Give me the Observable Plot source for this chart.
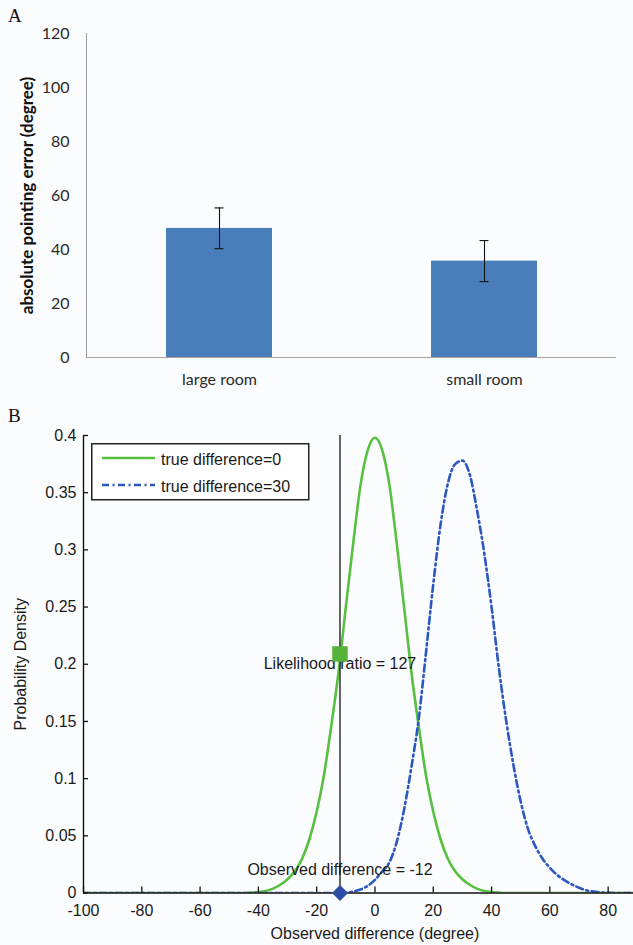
<!DOCTYPE html>
<html><head><meta charset="utf-8">
<script src="https://cdn.jsdelivr.net/npm/d3@7"></script>
<script src="https://cdn.jsdelivr.net/npm/@observablehq/plot@0.6"></script>
<style>
html,body{margin:0;padding:0;}
body{background:#fbfcfe;width:633px;height:945px;position:relative;overflow:hidden;}
.panel-label{position:absolute;font-family:"Liberation Serif","Times New Roman",serif;font-size:19px;color:#111;line-height:normal;}
#chartA{position:absolute;left:0;top:0;}
#chartB{position:absolute;left:0;top:395px;}
#legend{position:absolute;left:91px;top:443px;}
</style></head><body>
<div class="panel-label" style="left:8px;top:5px">A</div>
<div class="panel-label" style="left:8px;top:405px">B</div>
<div id="chartA"></div>
<div id="chartB"></div>
<div id="legend"></div>
<script>
// ---------- Panel A data ----------
const rooms = ["large room", "small room"];
const errorMeans = [47.8, 35.7];
const errorLow = [40.3, 28.1];
const errorHigh = [55.4, 43.3];
const yTicksA = [0, 20, 40, 60, 80, 100, 120];
const yLabelA = "absolute pointing error (degree)";

// ---------- Panel B data ----------
const seriesNames = ["true difference=0", "true difference=30"];
const diffGrid = [-100, -90, -80, -70, -60, -50,
  -47.5, -45, -42.5, -40, -37.5, -35, -32.5, -30, -27.5, -25, -22.5, -20, -17.5, -15, -12.5, -10, -7.5, -5, -2.5,
  0, 2.5, 5, 7.5, 10, 12.5, 15, 17.5, 20, 22.5, 25, 27.5, 30, 32.5, 35, 37.5, 40, 42.5, 45, 47.5,
  50, 52.5, 55, 57.5, 60, 62.5, 65, 67.5, 70, 72.5, 75, 77.5, 80, 85, 90];
const densityTrue0 = [0, 0, 0, 0, 0, 0,
  0, 0, 0.0003, 0.0008, 0.0018, 0.0038, 0.0072, 0.012, 0.019, 0.030, 0.047, 0.071, 0.103, 0.146, 0.193, 0.250, 0.305, 0.356, 0.387,
  0.398, 0.387, 0.356, 0.305, 0.250, 0.193, 0.146, 0.103, 0.071, 0.047, 0.030, 0.019, 0.012, 0.0072, 0.0038, 0.0018, 0.0008, 0.0003, 0, 0,
  0, 0, 0, 0, 0, 0, 0, 0, 0, 0, 0, 0, 0, 0, 0];
const densityTrue30 = [0, 0, 0, 0, 0, 0,
  0, 0, 0, 0, 0, 0, 0, 0, 0, 0, 0, 0, 0, 0, 0.0001, 0.0003, 0.0012, 0.003, 0.0062,
  0.0115, 0.019, 0.027, 0.045, 0.073, 0.110, 0.152, 0.210, 0.270, 0.322, 0.358, 0.375, 0.378, 0.366, 0.335, 0.297, 0.250, 0.197, 0.151, 0.112,
  0.080, 0.056, 0.041, 0.030, 0.022, 0.0158, 0.0112, 0.0075, 0.0046, 0.0024, 0.0012, 0.0005, 0.0002, 0, 0];
const observedDiff = -12;
const likelihoodPoint = 0.209;
const xTicksB = [-100, -80, -60, -40, -20, 0, 20, 40, 60, 80];
const yTicksB = [0, 0.05, 0.1, 0.15, 0.2, 0.25, 0.3, 0.35, 0.4];
const yTickLabelsB = ["0", "0.05", "0.1", "0.15", "0.2", "0.25", "0.3", "0.35", "0.4"];
const annotations = [
  {x: -12, y: 0.2, label: "Likelihood ratio = 127"},
  {x: -12, y: 0.02, label: "Observed difference = -12"}
];
const xLabelB = "Observed difference (degree)";
const yLabelB = "Probability Density";

// ---------- styles ----------
const barColor = "#4a7ebb";
const greenColor = "#58c040";
const blueColor = "#2c56c0";
const blueDash = "7,3.5,2,3.5";
const W = 633;

// ---------- Panel A ----------
const barData = rooms.map((r, i) => ({room: r, mean: errorMeans[i], lo: errorLow[i], hi: errorHigh[i]}));
const chartA = Plot.plot({
  width: W, height: 395,
  marginLeft: 86, marginRight: 17, marginTop: 33, marginBottom: 38,
  style: {background: "transparent", fontFamily: "Lato, 'Open Sans', sans-serif", color: "#2a2a2a", overflow: "visible"},
  x: {domain: rooms, paddingInner: 0.6, paddingOuter: 0.3, label: null},
  y: {domain: [0, 120], label: null},
  marks: [
    Plot.frame({anchor: "left", stroke: "#9a9a9a"}),
    Plot.barY(barData, {x: "room", y: "mean", fill: barColor}),
    Plot.ruleY([0], {stroke: "#aaa29c", strokeWidth: 1.2}),
    Plot.ruleX(barData, {x: "room", y1: "lo", y2: "hi", stroke: "#111", strokeWidth: 1.1}),
    Plot.tickY(barData, {x: "room", y: "lo", insetLeft: 48.5, insetRight: 48.5, stroke: "#111", strokeWidth: 1.1}),
    Plot.tickY(barData, {x: "room", y: "hi", insetLeft: 48.5, insetRight: 48.5, stroke: "#111", strokeWidth: 1.1}),
    Plot.axisY({ticks: yTicksA, tickSize: 0, tickPadding: 17, fontSize: 16, label: null}),
    Plot.axisX({tickSize: 0, tickPadding: 16, fontSize: 16, label: null}),
    Plot.text([yLabelA], {frameAnchor: "left", textAnchor: "middle", rotate: -90, dx: -59, fontWeight: "bold", fontSize: 17, fill: "#111", text: d => d})
  ]
});
document.getElementById("chartA").appendChild(chartA);

// ---------- Panel B ----------
const bH = 550, bTop = 40, bBottom = 52.5, bLeft = 83;
const frameH = bH - bTop - bBottom;
const frameW = W - bLeft;
const greenData = diffGrid.map((x, i) => ({x, y: densityTrue0[i]}));
const blueData = diffGrid.map((x, i) => ({x, y: densityTrue30[i]}));
const diamond = {
  draw(context, size) {
    const h = Math.sqrt(size) / Math.SQRT2;
    context.moveTo(0, -h); context.lineTo(h, 0); context.lineTo(0, h); context.lineTo(-h, 0); context.closePath();
  }
};
const chartB = Plot.plot({
  width: W, height: bH,
  marginLeft: bLeft, marginRight: 0, marginTop: bTop, marginBottom: bBottom,
  style: {background: "transparent", fontFamily: "'Liberation Sans', Arial, sans-serif", color: "#1a1a1a", overflow: "visible"},
  x: {domain: [-100, 88.7], label: null},
  y: {domain: [0, 0.4], label: null},
  marks: [
    Plot.line(greenData, {x: "x", y: "y", stroke: greenColor, strokeWidth: 2.6, curve: "monotone-x", clip: true}),
    Plot.line(blueData, {x: "x", y: "y", stroke: blueColor, strokeWidth: 2.6, strokeDasharray: blueDash, curve: "monotone-x", clip: true}),
    Plot.ruleX([observedDiff], {y1: 0, y2: 0.4, stroke: "#333", strokeWidth: 1.5}),
    Plot.ruleY([0], {stroke: "#111", strokeWidth: 1.4}),
    Plot.ruleX([-100], {stroke: "#111", strokeWidth: 1.4}),
    Plot.tickX(xTicksB, {x: d => d, insetTop: frameH - 6, stroke: "#111", strokeWidth: 1.3}),
    Plot.tickY(yTicksB, {y: d => d, insetRight: frameW - 5, stroke: "#111", strokeWidth: 1.3}),
    Plot.axisX({ticks: xTicksB, tickSize: 0, tickPadding: 12, fontSize: 16, tickFormat: d => String(d), label: null}),
    Plot.axisY({ticks: yTicksB, tickSize: 0, tickPadding: 7, fontSize: 16, tickFormat: d => yTickLabelsB[yTicksB.indexOf(d)], label: null}),
    Plot.text(annotations, {x: "x", y: "y", text: "label", fontSize: 16, fill: "#1a1a1a", lineAnchor: "middle"}),
    Plot.dot([{x: observedDiff, y: likelihoodPoint}], {x: "x", y: "y", symbol: "square", r: 8.74, fill: "#56b33a", stroke: "none"}),
    Plot.dot([{x: observedDiff, y: 0}], {x: "x", y: "y", symbol: diamond, r: 6.4, fill: "#2b4da6", stroke: "none"}),
    Plot.text([xLabelB], {x: 0, frameAnchor: "bottom", dy: 40.5, lineAnchor: "middle", fontSize: 16, fill: "#1a1a1a", text: d => d}),
    Plot.text([yLabelB], {frameAnchor: "left", textAnchor: "middle", rotate: -90, dx: -62.5, fontSize: 16, fill: "#1a1a1a", text: d => d})
  ]
});
document.getElementById("chartB").appendChild(chartB);

// ---------- Legend (panel B) ----------
const legendColors = [greenColor, blueColor];
const legendDash = [null, blueDash];
const ns = "http://www.w3.org/2000/svg";
const lg = document.createElementNS(ns, "svg");
lg.setAttribute("width", 219); lg.setAttribute("height", 58);
const box = document.createElementNS(ns, "rect");
box.setAttribute("x", 0.75); box.setAttribute("y", 0.75); box.setAttribute("width", 217); box.setAttribute("height", 56);
box.setAttribute("fill", "#fff"); box.setAttribute("stroke", "#222"); box.setAttribute("stroke-width", 1.5);
lg.appendChild(box);
seriesNames.forEach((name, i) => {
  const y = 15 + 27 * i;
  const ln = document.createElementNS(ns, "line");
  ln.setAttribute("x1", 11); ln.setAttribute("x2", 64); ln.setAttribute("y1", y); ln.setAttribute("y2", y);
  ln.setAttribute("stroke", legendColors[i]); ln.setAttribute("stroke-width", 2.6);
  if (legendDash[i]) ln.setAttribute("stroke-dasharray", legendDash[i]);
  lg.appendChild(ln);
  const t = document.createElementNS(ns, "text");
  t.setAttribute("x", 70); t.setAttribute("y", y + 1.5);
  t.setAttribute("dominant-baseline", "central");
  t.setAttribute("font-family", "'Liberation Sans', Arial, sans-serif");
  t.setAttribute("font-size", 16); t.setAttribute("fill", "#1a1a1a");
  t.textContent = name;
  lg.appendChild(t);
});
document.getElementById("legend").appendChild(lg);
</script></body></html>
